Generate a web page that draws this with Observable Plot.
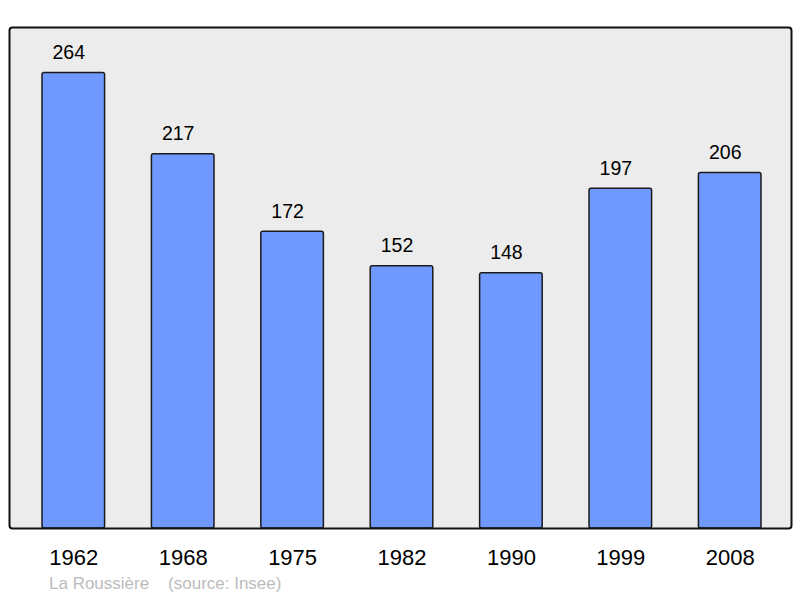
<!DOCTYPE html>
<html>
<head>
<meta charset="utf-8">
<script src="https://cdn.jsdelivr.net/npm/d3@7"></script>
<script src="https://cdn.jsdelivr.net/npm/@observablehq/plot@0.6"></script>
<style>
  html, body { margin: 0; padding: 0; background: #ffffff; }
  #wrap { position: relative; width: 800px; height: 598px; font-family: "Liberation Sans", Arial, sans-serif; }
  #caption { position: absolute; left: 49px; top: 575px; font-size: 17px; line-height: 17px; color: #bbbbbb; white-space: pre; }
</style>
</head>
<body>
<div id="wrap"><div id="chart"></div><div id="caption"></div></div>
<script>
const years = ["1962", "1968", "1975", "1982", "1990", "1999", "2008"];
const population = [264, 217, 172, 152, 148, 197, 206];
const placeName = "La Roussière";
const sourceText = "(source: Insee)";

const data = years.map((y, i) => ({year: y, value: population[i]}));

const chart = Plot.plot({
  width: 800,
  height: 570,
  marginLeft: 9,
  marginRight: 9,
  marginTop: 27,
  marginBottom: 42,
  style: {fontFamily: "Liberation Sans, Arial, sans-serif", background: "transparent"},
  x: {domain: years, range: [42, 761], paddingInner: 0.428, paddingOuter: 0, round: false, label: null},
  y: {domain: [0, 290.4], axis: null},
  marks: [
    Plot.frame({fill: "#ececec", stroke: "none", rx: 3}),
    Plot.barY(data, {x: "year", y: "value", fill: "#7099ff", stroke: "#1a1a1a", strokeWidth: 1.5, rx: 2}),
    Plot.text(data, {x: "year", y: "value", text: d => String(d.value), dx: -5, dy: -14, lineAnchor: "bottom", fontSize: 19.5, fill: "#000"}),
    Plot.axisX({tickSize: 0, tickPadding: 21, fontSize: 22, color: "#000", label: null}),
    Plot.frame({stroke: "#111", strokeWidth: 2, fill: "none", rx: 3})
  ]
});
document.getElementById("chart").appendChild(chart);
document.getElementById("caption").textContent = placeName + "    " + sourceText;
</script>
</body>
</html>
